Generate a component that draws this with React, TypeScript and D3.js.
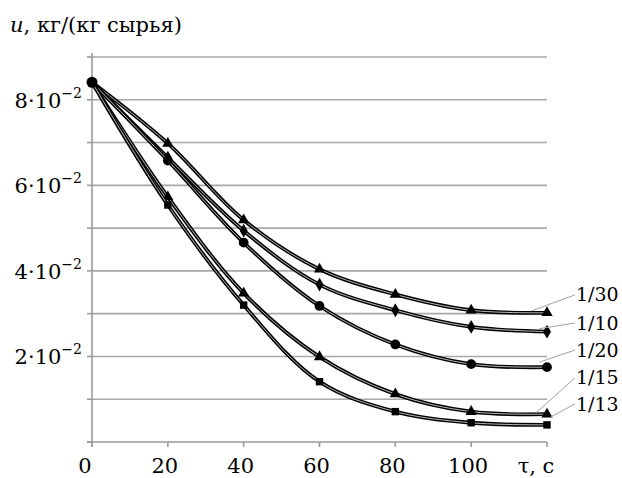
import React, { useRef, useEffect } from 'react';
import * as d3 from 'd3';

// time, s
const times = [0, 20, 40, 60, 80, 100, 120];
const xTickLabels = ['0', '20', '40', '60', '80', '100', 'τ, с'];

// u, kg/(kg raw material) for each ratio
const s130 = [0.0841, 0.0698, 0.0519, 0.0404, 0.0345, 0.0308, 0.0302];
const s110 = [0.0841, 0.0665, 0.0494, 0.0368, 0.0308, 0.0269, 0.0258];
const s120 = [0.0841, 0.0658, 0.0466, 0.0318, 0.0228, 0.0182, 0.0175];
const s115 = [0.0841, 0.0573, 0.0348, 0.0199, 0.0112, 0.0071, 0.0065];
const s113 = [0.0841, 0.0554, 0.032, 0.0141, 0.0071, 0.0045, 0.004];

const seriesNames = ['1/30', '1/10', '1/20', '1/15', '1/13'];
const seriesValues = [s130, s110, s120, s115, s113];
const markerTypes = [d3.symbolTriangle, d3.symbolDiamond, d3.symbolCircle, d3.symbolTriangle, d3.symbolSquare];

// label position (in u units) and where its leader touches the curve
const labelValues = [0.0344, 0.0278, 0.0215, 0.015, 0.0089];
const leaderT = [116, 118, 118, 117, 121];
const leaderDy = [-2, -3, -5, -1, -8];

const yTicks = [0.02, 0.04, 0.06, 0.08];
const yTickMantissa = ['2', '4', '6', '8'];

function App() {
  const svgRef = useRef<SVGSVGElement>(null);

  useEffect(() => {
    const width = 622;
    const height = 478;
    const svg = d3.select(svgRef.current).attr('width', width).attr('height', height);
    svg.selectAll('*').remove();

    const x = d3.scaleLinear().domain([0, 120]).range([92, 547]);
    const y = d3.scaleLinear().domain([0, 0.09]).range([442, 57]);

    // gridlines
    svg
      .selectAll('.grid')
      .data(d3.range(1, 10).map((i) => i * 0.01))
      .join('line')
      .attr('class', 'grid')
      .attr('x1', x(0))
      .attr('x2', x(120))
      .attr('y1', (d) => y(d))
      .attr('y2', (d) => y(d))
      .attr('stroke', '#a8a8a8')
      .attr('stroke-width', 1.6);

    // axes
    const axisColor = '#9a9a9a';
    svg.append('line').attr('x1', x(0)).attr('x2', x(0)).attr('y1', y(0.09) - 4).attr('y2', y(0) + 5)
      .attr('stroke', axisColor).attr('stroke-width', 1.6);
    svg.append('line').attr('x1', x(0) - 5).attr('x2', x(120)).attr('y1', y(0)).attr('y2', y(0))
      .attr('stroke', axisColor).attr('stroke-width', 1.6);

    svg.selectAll('.ytick').data(d3.range(0, 10).map((i) => i * 0.01)).join('line')
      .attr('class', 'ytick')
      .attr('x1', x(0) - 5).attr('x2', x(0))
      .attr('y1', (d) => y(d)).attr('y2', (d) => y(d))
      .attr('stroke', axisColor).attr('stroke-width', 1.6);

    svg.selectAll('.xtick').data(times).join('line')
      .attr('class', 'xtick')
      .attr('x1', (d) => x(d)).attr('x2', (d) => x(d))
      .attr('y1', y(0)).attr('y2', y(0) + 5)
      .attr('stroke', axisColor).attr('stroke-width', 1.6);

    // x tick labels
    svg.selectAll('.xlabel').data(times).join('text')
      .attr('class', 'xlabel')
      .attr('x', (d, i) => x(d) - (i === 0 ? 7 : i === 6 ? 11 : 3))
      .attr('y', 473)
      .attr('text-anchor', 'middle')
      .attr('font-size', 21)
      .text((d, i) => xTickLabels[i]);

    // y tick labels like 8·10^-2
    const yl = svg.selectAll('.ylabel').data(yTicks).join('text')
      .attr('class', 'ylabel')
      .attr('x', 82)
      .attr('y', (d) => y(d) + 8)
      .attr('text-anchor', 'end')
      .attr('font-size', 21);
    yl.append('tspan').text((d, i) => `${yTickMantissa[i]}·10`);
    yl.append('tspan').attr('font-size', 14).attr('dy', -10).text('−2');

    // title
    const title = svg.append('text').attr('x', 10).attr('y', 32).attr('font-size', 21);
    title.append('tspan').attr('font-style', 'italic').text('u');
    title.append('tspan').text(', кг/(кг сырья)');

    // curves
    const line = d3.line<number>()
      .x((d, i) => x(times[i]))
      .y((d) => y(d))
      .curve(d3.curveCatmullRom.alpha(0.5));

    seriesValues.forEach((vals, si) => {
      svg.append('path').attr('d', line(vals)).attr('fill', 'none')
        .attr('stroke', '#000').attr('stroke-width', 3.8);
      svg.append('path').attr('d', line(vals)).attr('fill', 'none')
        .attr('stroke', '#fff').attr('stroke-width', 0.9).attr('stroke-opacity', 0.8);

      svg.selectAll(`.m${si}`).data(vals.slice(1)).join('path')
        .attr('class', `m${si}`)
        .attr('transform', (d, i) => `translate(${x(times[i + 1])},${y(d)})`)
        .attr('d', d3.symbol().type(markerTypes[si]).size(si === 2 ? 75 : 55)())
        .attr('fill', '#000');
    });

    // common starting point
    svg.append('circle').attr('cx', x(times[0])).attr('cy', y(s130[0])).attr('r', 5.5).attr('fill', '#000');

    // series labels with leader lines
    seriesNames.forEach((name, si) => {
      const vals = seriesValues[si];
      const ly = y(labelValues[si]);
      svg.append('line')
        .attr('x1', 575).attr('y1', ly)
        .attr('x2', x(leaderT[si])).attr('y2', y(vals[vals.length - 1]) + leaderDy[si])
        .attr('stroke', '#a0a0a0').attr('stroke-width', 1);
      svg.append('text').attr('x', 576).attr('y', ly).attr('dy', '0.35em')
        .attr('font-size', 19).text(name);
    });
  }, []);

  return (
    <svg
      ref={svgRef}
      style={{ position: 'absolute', left: 0, top: 0, background: '#fff', fontFamily: "'DejaVu Serif', serif" }}
    />
  );
}

export default App;
